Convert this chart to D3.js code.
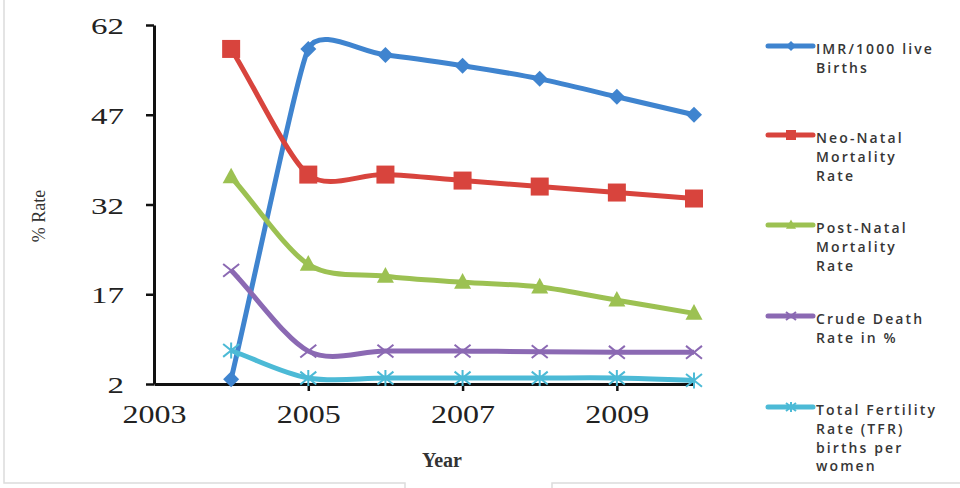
<!DOCTYPE html>
<html>
<head>
<meta charset="utf-8">
<script src="https://cdn.jsdelivr.net/npm/d3@7"></script>
<style>
  body { margin: 0; background: #fff; }
  .tick text { font-family: "Liberation Serif", "DejaVu Serif", serif; fill: #222; }
  .legend text { font-family: "Open Sans", sans-serif; font-size: 14px; font-weight: 600; letter-spacing: 2.1px; fill: #363636; }
</style>
</head>
<body>
<div id="chart"></div>
<script>
const width = 960;
const height = 488;

const years = [2004, 2005, 2006, 2007, 2008, 2009, 2010];
const imr = [2.8, 58, 57, 55.2, 53, 50, 47];
const neoNatal = [58, 37, 37, 36, 35, 34, 33];
const postNatal = [36.6, 22, 20, 19, 18.2, 16, 13.8];
const crudeDeath = [21, 7.5, 7.5, 7.5, 7.4, 7.3, 7.3];
const tfr = [7.6, 3.0, 3.0, 3.0, 3.0, 3.0, 2.6];

const xTicks = [2003, 2005, 2007, 2009];
const yTicks = [2, 17, 32, 47, 62];

const seriesNames = [
  ["IMR/1000 live", "Births"],
  ["Neo-Natal", "Mortality", "Rate"],
  ["Post-Natal", "Mortality", "Rate"],
  ["Crude Death", "Rate in %"],
  ["Total Fertility", "Rate (TFR)", "births per", "women"]
];

const series = [
  { values: imr, color: "#3f84cf", marker: "diamond" },
  { values: neoNatal, color: "#d8443d", marker: "square" },
  { values: postNatal, color: "#9cc152", marker: "triangle" },
  { values: crudeDeath, color: "#8b69b3", marker: "x" },
  { values: tfr, color: "#4cbad6", marker: "star" }
];

const svg = d3.select("#chart")
  .append("svg")
  .attr("width", width)
  .attr("height", height);

// faint frame lines from the screenshot
const frame = svg.append("g").attr("stroke", "#dcdcdc").attr("fill", "none").attr("stroke-width", 1.5);
frame.append("path").attr("d", "M4,0 V483 H405 V488");
frame.append("path").attr("d", "M552,488 V483 H960");

const x = d3.scaleLinear().domain([2003, 2010]).range([154, 694]);
const y = d3.scaleLinear().domain([2, 62]).range([384, 25]);

const xAxis = svg.append("g")
  .attr("transform", `translate(0,${y(2)})`)
  .call(d3.axisBottom(x).tickValues(xTicks).tickSize(7).tickSizeOuter(0).tickPadding(14).tickFormat(d3.format("d")));

const yAxis = svg.append("g")
  .attr("transform", `translate(${x(2003)},0)`)
  .call(d3.axisLeft(y).tickValues(yTicks).tickSize(8).tickSizeOuter(0).tickPadding(22));

[xAxis, yAxis].forEach(a => {
  a.select(".domain").attr("stroke", "#111").attr("stroke-width", 3);
  a.selectAll(".tick line").attr("stroke", "#111").attr("stroke-width", 2.5);
});
xAxis.selectAll(".tick text")
  .style("font-size", "25px")
  .attr("textLength", 64)
  .attr("lengthAdjust", "spacingAndGlyphs");
xAxis.selectAll(".tick").filter(d => d === 2003).select("line").remove();
yAxis.selectAll(".tick text")
  .style("font-size", "24px")
  .attr("dy", "0.36em")
  .attr("textLength", d => String(d).length * 16.5)
  .attr("lengthAdjust", "spacingAndGlyphs");

svg.append("text")
  .attr("transform", "translate(45,216) rotate(-90)")
  .attr("text-anchor", "middle")
  .style("font-family", "Liberation Serif, serif")
  .style("font-size", "18px")
  .style("fill", "#333")
  .text("% Rate");

svg.append("text")
  .attr("x", 442)
  .attr("y", 467)
  .attr("text-anchor", "middle")
  .style("font-family", "Liberation Serif, serif")
  .style("font-size", "20px")
  .style("font-weight", "bold")
  .style("fill", "#333")
  .text("Year");

function drawMarker(g, type, color, s) {
  if (type === "diamond") {
    g.append("path").attr("d", `M0,${-s} L${s},0 L0,${s} L${-s},0 Z`).attr("fill", color);
  } else if (type === "square") {
    g.append("rect").attr("x", -s).attr("y", -s).attr("width", 2 * s).attr("height", 2 * s).attr("fill", color);
  } else if (type === "triangle") {
    g.append("path").attr("d", `M0,${-s * 1.1} L${s},${s * 0.75} L${-s},${s * 0.75} Z`).attr("fill", color);
  } else {
    let d = `M${-s},${-s * 0.8} L${s},${s * 0.8} M${-s},${s * 0.8} L${s},${-s * 0.8}`;
    if (type === "star") d += ` M0,${-s} V${s}`;
    g.append("path").attr("d", d).attr("stroke", color).attr("stroke-width", 2).attr("fill", "none");
  }
}

// spreadsheet-style smoothing: tangent along the neighbours, arm limited by the shorter segment
function smoothCurve(context) {
  let pts;
  return {
    areaStart() {}, areaEnd() {},
    lineStart() { pts = []; },
    point(px, py) { pts.push([+px, +py]); },
    lineEnd() {
      const n = pts.length;
      if (!n) return;
      context.moveTo(pts[0][0], pts[0][1]);
      const dist = (a, b) => Math.hypot(b[0] - a[0], b[1] - a[1]);
      const ctrl = pts.map((p, i) => {
        const prev = pts[Math.max(i - 1, 0)], next = pts[Math.min(i + 1, n - 1)];
        const d1 = dist(prev, p), d2 = dist(p, next);
        const tx = next[0] - prev[0], ty = next[1] - prev[1];
        const tl = Math.hypot(tx, ty) || 1;
        const arm = (i === 0 || i === n - 1) ? Math.max(d1, d2) / 3 : Math.min(d1, d2) / 3;
        return {
          inX: p[0] - tx / tl * arm, inY: p[1] - ty / tl * arm,
          outX: p[0] + tx / tl * arm, outY: p[1] + ty / tl * arm
        };
      });
      for (let i = 1; i < n; i++) {
        context.bezierCurveTo(ctrl[i - 1].outX, ctrl[i - 1].outY, ctrl[i].inX, ctrl[i].inY, pts[i][0], pts[i][1]);
      }
    }
  };
}

const line = d3.line()
  .x((d, i) => x(years[i]))
  .y(d => y(d))
  .curve(smoothCurve);

const markerSize = { diamond: 8, square: 9, triangle: 8.5, x: 8, star: 8 };

series.forEach(s => {
  svg.append("path")
    .attr("d", line(s.values))
    .attr("fill", "none")
    .attr("stroke", s.color)
    .attr("stroke-width", 5)
    .attr("stroke-linejoin", "round");

  svg.append("g")
    .selectAll("g")
    .data(s.values)
    .enter()
    .append("g")
    .attr("transform", (d, i) => `translate(${x(years[i])},${y(d)})`)
    .each(function() { drawMarker(d3.select(this), s.marker, s.color, markerSize[s.marker]); });
});

// legend
const legend = svg.append("g").attr("class", "legend");
const legendTop = [54, 143, 233, 324, 415];

series.forEach((s, i) => {
  const g = legend.append("g").attr("transform", `translate(0,${legendTop[i]})`);
  g.append("line")
    .attr("x1", 768).attr("x2", 813)
    .attr("y1", -8).attr("y2", -8)
    .attr("stroke", s.color)
    .attr("stroke-width", 5)
    .attr("stroke-linecap", "round");
  const mk = g.append("g").attr("transform", "translate(791,-8)");
  drawMarker(mk, s.marker, s.color, 5);
  g.selectAll("text")
    .data(seriesNames[i])
    .enter()
    .append("text")
    .attr("x", 816)
    .attr("y", (d, j) => j * 18.8)
    .text(d => d);
});
</script>
</body>
</html>
